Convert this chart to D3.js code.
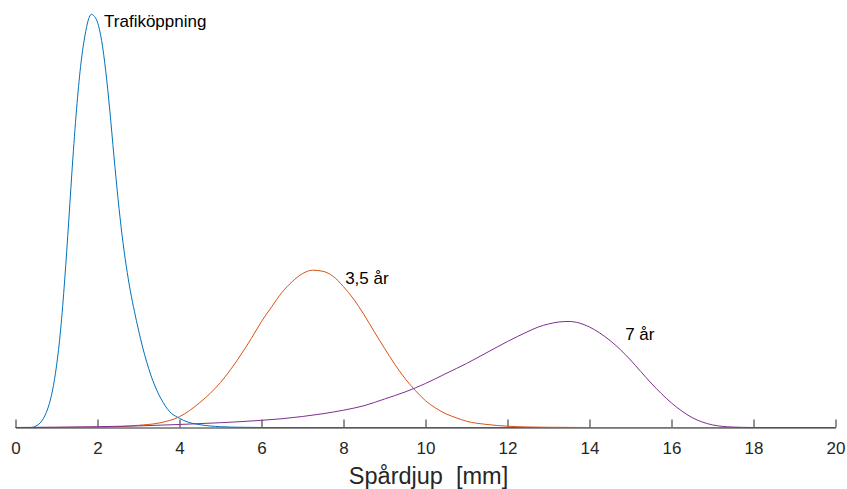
<!DOCTYPE html>
<html>
<head>
<meta charset="utf-8">
<script src="https://cdn.jsdelivr.net/npm/d3@7/dist/d3.min.js"></script>
<style>
  html, body { margin: 0; padding: 0; background: #fff; }
  svg { display: block; font-family: "Liberation Sans", Arial, Helvetica, sans-serif; }
</style>
</head>
<body>
<svg id="chart" width="847" height="489"></svg>
<script>
// Rut depth distributions (probability density per mm) at three ages
const trafficX = [0, 0.4, 0.5, 0.6, 0.7, 0.8, 0.9, 1.0, 1.1, 1.2, 1.3, 1.4, 1.5, 1.6, 1.7, 1.8, 1.85, 1.9, 2.0, 2.1, 2.2, 2.3, 2.4, 2.5, 2.6, 2.7, 2.8, 2.9, 3.0, 3.1, 3.2, 3.3, 3.4, 3.5, 3.6, 3.7, 3.8, 3.9, 4.0, 4.2, 4.5, 5.0, 5.5, 6.0, 20];
const trafficY = [0, 0, 0.0026, 0.0079, 0.0184, 0.036, 0.064, 0.108, 0.171, 0.259, 0.364, 0.473, 0.568, 0.641, 0.690, 0.720, 0.725, 0.723, 0.711, 0.679, 0.626, 0.556, 0.477, 0.402, 0.337, 0.284, 0.240, 0.204, 0.171, 0.141, 0.115, 0.092, 0.073, 0.057, 0.044, 0.033, 0.025, 0.020, 0.016, 0.0096, 0.0049, 0.0014, 0.0004, 0, 0];

const year35X = [0, 2.0, 2.5, 3.0, 3.5, 4.0, 4.25, 4.5, 4.75, 5.0, 5.25, 5.5, 5.75, 6.0, 6.25, 6.5, 6.75, 7.0, 7.25, 7.5, 7.75, 8.0, 8.25, 8.5, 8.75, 9.0, 9.25, 9.5, 9.75, 10.0, 10.25, 10.5, 10.75, 11.0, 11.5, 12.0, 12.5, 13.0, 14.0, 20];
const year35Y = [0, 0.0004, 0.0014, 0.0039, 0.0079, 0.019, 0.030, 0.044, 0.060, 0.079, 0.102, 0.128, 0.156, 0.186, 0.212, 0.237, 0.256, 0.270, 0.276, 0.274, 0.265, 0.247, 0.225, 0.198, 0.168, 0.139, 0.111, 0.086, 0.065, 0.047, 0.034, 0.024, 0.017, 0.011, 0.0053, 0.0023, 0.0009, 0.0004, 0, 0];

const year7X = [0, 1.0, 2.0, 3.0, 4.0, 5.0, 6.0, 6.5, 7.0, 7.5, 8.0, 8.5, 9.0, 9.5, 10.0, 10.5, 11.0, 11.5, 12.0, 12.5, 12.75, 13.0, 13.25, 13.5, 13.75, 14.0, 14.25, 14.5, 14.75, 15.0, 15.25, 15.5, 15.75, 16.0, 16.25, 16.5, 16.75, 17.0, 17.25, 17.5, 17.75, 18.0, 20];
const year7Y = [0, 0.0005, 0.0014, 0.0028, 0.0053, 0.0084, 0.0126, 0.0154, 0.0193, 0.0242, 0.0304, 0.0382, 0.050, 0.0623, 0.0772, 0.0947, 0.1123, 0.1316, 0.1509, 0.1684, 0.1763, 0.1816, 0.1851, 0.186, 0.1833, 0.1763, 0.1658, 0.1526, 0.1368, 0.1184, 0.0982, 0.0781, 0.0596, 0.043, 0.0289, 0.0175, 0.0096, 0.0046, 0.0019, 0.0007, 0.0002, 0, 0];

const seriesNames = ["Trafiköppning", "3,5 år", "7 år"];
const seriesColors = ["#0072BD", "#D95319", "#7E2F8E"];

// Curve labels, placed in data coordinates
const labelX = [2.16, 8.04, 14.87];
const labelY = [0.703, 0.251, 0.154];

const xTicks = [0, 2, 4, 6, 8, 10, 12, 14, 16, 18, 20];
const xTitle = "Spårdjup  [mm]";

const svg = d3.select("#chart");
const axisY = 427.5;

const x = d3.scaleLinear().domain([0, 20]).range([15.5, 835.5]);
const y = d3.scaleLinear().domain([0, 0.75]).range([axisY, 0]);

// x axis with inward ticks, no box
const axisG = svg.append("g")
  .attr("transform", `translate(0,${axisY})`)
  .call(d3.axisBottom(x).tickValues(xTicks).tickFormat(d3.format("d"))
        .tickSizeInner(-8).tickSizeOuter(0).tickPadding(14));
axisG.select(".domain").attr("stroke", "#262626").attr("stroke-width", 1);
axisG.selectAll(".tick line").attr("stroke", "#262626").attr("stroke-width", 1);
axisG.selectAll(".tick text")
  .attr("fill", "#262626")
  .style("font-size", "17px")
  .style("font-family", "'Liberation Sans', Arial, sans-serif");

// x axis title
svg.append("text")
  .attr("x", x(10) + 3)
  .attr("y", 483.5)
  .attr("text-anchor", "middle")
  .attr("fill", "#262626")
  .style("font-size", "23.5px")
  .style("white-space", "pre")
  .text(xTitle);

// density curves
const series = [
  { xs: trafficX, ys: trafficY },
  { xs: year35X, ys: year35Y },
  { xs: year7X, ys: year7Y }
];

const line = d3.line()
  .x(d => x(d[0]))
  .y(d => y(d[1]))
  .curve(d3.curveMonotoneX);

series.forEach((s, i) => {
  const pts = s.xs.map((v, j) => [v, s.ys[j]]);
  svg.append("path")
    .datum(pts)
    .attr("fill", "none")
    .attr("stroke", seriesColors[i])
    .attr("stroke-width", 1)
    .attr("d", line);
});

// labels next to each curve
seriesNames.forEach((name, i) => {
  svg.append("text")
    .attr("x", x(labelX[i]))
    .attr("y", y(labelY[i]))
    .attr("fill", "#000")
    .style("font-size", "17px")
    .text(name);
});
</script>
</body>
</html>
